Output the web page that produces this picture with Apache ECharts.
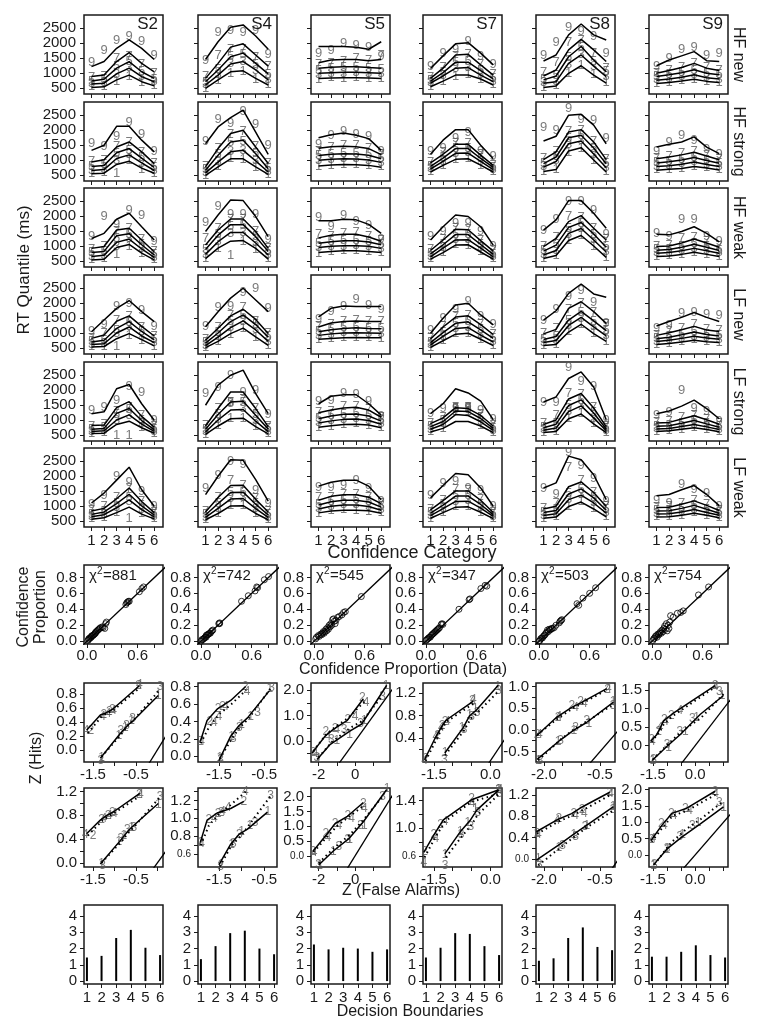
<!DOCTYPE html>
<html><head><meta charset="utf-8">
<script src="https://cdn.jsdelivr.net/npm/echarts@6/dist/echarts.min.js"></script>
<style>html,body{margin:0;padding:0;background:#fff}#c{width:762px;height:1032px}</style>
</head><body><div id="c"></div><script>
// ---------------- DATA ----------------
const subjects = ['S2','S4','S5','S7','S8','S9'];
const conditions = ['HF new','HF strong','HF weak','LF new','LF strong','LF weak'];
const confCategories = [1,2,3,4,5,6];
const quantileLabels = ['1','3','5','7','9'];
const rtTicks = [500,1000,1500,2000,2500];
// RT quantiles: [q.1, q.3, q.5, q.7, q.9] x confidence 1..6 ; model = lines, data = digit labels
const S2_HFnew_model = [[520,540,770,930,710,570],[630,660,970,1160,880,710],[730,790,1160,1380,1040,820],[880,930,1380,1680,1320,1040],[1210,1380,1820,2100,1820,1450]];
const S2_HFnew_data = [[540,560,710,900,700,580],[640,690,950,1180,900,720],[720,800,1210,1370,1060,800],[850,900,1470,1560,1300,1000],[1360,1740,2080,2230,2050,1570]];
const S2_HFstrong_model = [[540,560,850,960,730,560],[650,680,1050,1170,900,650],[780,820,1240,1380,1060,750],[930,1010,1430,1600,1270,880],[1320,1490,2120,2120,1660,1270]];
const S2_HFstrong_data = [[550,580,550,1000,700,560],[660,700,1000,1200,880,660],[790,840,1230,1330,1080,760],[950,1000,1460,1580,1250,900],[1540,1450,1770,2240,1860,1270]];
const S2_HFweak_model = [[530,560,950,1050,760,540],[650,690,1120,1230,900,620],[780,820,1340,1410,1040,700],[920,980,1530,1590,1200,810],[1250,1420,1890,2090,1640,1200]];
const S2_HFweak_data = [[540,570,730,1000,740,550],[660,700,1000,1250,920,630],[790,830,1250,1400,1060,710],[900,1000,1480,1600,1220,820],[1310,2000,1720,2180,2030,1140]];
const S2_LFnew_model = [[530,550,810,980,780,570],[620,640,1000,1200,900,680],[700,760,1150,1380,1050,770],[820,930,1390,1570,1220,900],[1040,1430,1820,2080,1710,1380]];
const S2_LFnew_data = [[540,560,540,920,760,560],[630,660,980,1220,880,690],[710,760,1100,1360,1060,780],[830,1000,1430,1560,1200,880],[1040,1300,1900,2000,1740,1210]];
const S2_LFstrong_model = [[550,560,850,960,740,560],[620,640,1000,1170,860,620],[690,720,1220,1380,980,680],[820,830,1410,1610,1120,760],[1210,1270,2040,2180,1540,990]];
const S2_LFstrong_data = [[560,570,490,490,760,560],[630,650,980,1150,880,630],[700,740,1200,1360,1000,690],[800,860,1270,1420,1150,780],[1320,1430,1660,2120,1910,990]];
const S2_LFweak_model = [[560,610,780,960,730,570],[640,710,940,1200,880,640],[720,800,1080,1390,1000,700],[830,920,1240,1600,1150,780],[1100,1430,1860,2290,1540,990]];
const S2_LFweak_data = [[570,620,800,570,740,580],[650,720,960,1150,900,650],[730,810,1100,1300,1020,710],[840,1000,1300,1600,1150,790],[1040,1340,1990,1770,1490,990]];

const S4_HFnew_model = [[490,770,1040,1070,820,600],[600,930,1300,1380,1100,770],[710,1100,1540,1660,1320,970],[820,1320,1860,1970,1600,1230],[1450,2040,2520,2600,2230,1790]];
const S4_HFnew_data = [[500,760,1000,1050,800,610],[610,950,1320,1400,1080,780],[700,1120,1550,1620,1300,950],[900,1570,1770,1790,1520,1230],[1430,2360,2410,2360,2410,1630]];
const S4_HFstrong_model = [[490,770,1040,1040,770,520],[570,930,1270,1320,970,600],[660,1160,1600,1660,1210,710],[770,1380,1880,1990,1430,880],[1540,2100,2410,2660,1930,1190]];
const S4_HFstrong_data = [[500,780,1050,1020,760,530],[580,950,1300,1330,980,610],[670,1180,1600,1620,1220,720],[800,1400,1850,1950,1450,900],[1630,2360,2210,2620,2190,1470]];
const S4_HFweak_model = [[580,930,1160,1180,920,560],[720,1140,1450,1450,1100,700],[880,1360,1710,1710,1310,820],[1030,1530,1900,1900,1480,920],[1480,2030,2530,2510,1980,1310]];
const S4_HFweak_data = [[590,920,670,1150,900,570],[730,1150,1420,1460,1120,710],[900,1380,1650,1700,1330,830],[1250,1600,1900,1880,1500,930],[1790,2310,2060,2060,2060,1220]];
const S4_LFnew_model = [[510,720,980,1160,870,590],[580,860,1180,1400,1100,720],[660,1000,1380,1600,1280,860],[760,1160,1570,1790,1450,980],[1210,1710,2160,2490,2100,1710]];
const S4_LFnew_data = [[520,730,960,1150,860,600],[590,880,1200,1380,1120,730],[680,1020,1400,1580,1300,870],[780,1200,1600,1850,1400,1000],[1210,1840,1900,2340,2490,1820]];
const S4_LFstrong_model = [[520,800,1040,1060,780,540],[600,1000,1330,1350,960,610],[690,1180,1600,1620,1160,700],[800,1380,1930,1930,1380,780],[1490,2160,2490,2660,1880,1210]];
const S4_LFstrong_data = [[530,810,1050,1040,790,550],[610,1020,1550,1370,980,620],[700,1200,1580,1600,1180,710],[830,1400,1600,1700,1400,800],[1900,2080,2490,1930,1990,1190]];
const S4_LFweak_model = [[540,750,1000,1010,750,540],[620,920,1230,1250,910,620],[700,1080,1450,1460,1060,700],[800,1280,1680,1690,1220,800],[1380,1990,2540,2520,1880,1160]];
const S4_LFweak_data = [[550,760,1020,1020,760,550],[630,930,1240,1270,930,630],[720,1100,1460,1450,1080,710],[820,1300,1850,1700,1250,810],[1580,2020,2490,2380,1520,1080]];

const S5_HFnew_model = [[820,830,840,840,830,820],[990,1010,1020,1020,1010,990],[1160,1190,1210,1210,1180,1160],[1340,1430,1450,1450,1410,1450],[1880,1880,1880,1860,1790,2040]];
const S5_HFnew_data = [[800,840,830,850,820,830],[960,990,1000,1010,990,980],[1100,1150,1180,1190,1150,1130],[1270,1320,1400,1470,1410,1570],[1660,1740,1990,1910,1860,1540]];
const S5_HFstrong_model = [[800,830,850,840,820,760],[990,1020,1040,1030,1000,920],[1150,1190,1210,1200,1160,1040],[1390,1440,1460,1440,1380,1180],[1740,1840,1900,1820,1710,1320]];
const S5_HFstrong_data = [[790,820,860,850,810,770],[980,1030,1050,1040,990,930],[1160,1200,1230,1210,1170,1060],[1300,1420,1500,1480,1400,1200],[1510,1820,1960,1840,1770,1270]];
const S5_HFweak_model = [[780,820,840,840,820,780],[950,990,1010,1010,990,920],[1090,1140,1170,1170,1130,1040],[1270,1360,1390,1390,1300,1160],[1840,1840,1890,1870,1720,1420]];
const S5_HFweak_data = [[760,820,850,840,830,770],[940,980,1000,1020,980,930],[1100,1150,1180,1180,1140,1050],[1400,1330,1420,1450,1320,1180],[1940,1640,2030,1810,1680,1220]];
const S5_LFnew_model = [[790,820,840,850,840,840],[920,970,1000,1010,1000,990],[1040,1110,1150,1170,1150,1140],[1200,1330,1380,1400,1380,1380],[1540,1820,1900,1880,1880,1880]];
const S5_LFnew_data = [[780,830,850,840,850,830],[930,960,1010,1020,990,1000],[1060,1120,1170,1180,1160,1150],[1230,1300,1400,1420,1390,1370],[1460,1710,1900,2120,1930,1770]];
const S5_LFstrong_model = [[760,810,850,860,830,740],[900,970,1020,1030,980,860],[1040,1130,1190,1200,1130,960],[1240,1330,1400,1420,1330,1090],[1540,1790,1840,1840,1540,1160]];
const S5_LFstrong_data = [[750,800,860,870,820,750],[910,990,1030,1040,990,870],[1060,1150,1200,1210,1150,980],[1250,1300,1460,1450,1350,1100],[1630,1660,1900,1840,1620,1120]];
const S5_LFweak_model = [[770,830,860,860,840,760],[900,990,1030,1030,980,860],[1030,1140,1190,1190,1130,960],[1190,1320,1370,1370,1290,1080],[1660,1790,1860,1860,1660,1210]];
const S5_LFweak_data = [[760,840,870,860,830,770],[910,1000,1040,1050,990,870],[1050,1150,1200,1210,1150,970],[1270,1300,1380,1400,1280,1090],[1630,1620,1680,1860,1600,1160]];

const S7_HFnew_model = [[540,730,930,930,800,600],[660,900,1160,1180,930,710],[730,1010,1360,1360,1080,800],[820,1160,1600,1620,1270,930],[1150,1570,1970,2010,1660,1270]];
const S7_HFnew_data = [[550,720,900,940,790,610],[670,920,1150,1190,940,720],[740,1030,1350,1380,1090,810],[850,1200,1550,1620,1280,950],[1210,1660,1770,2040,1540,1270]];
const S7_HFstrong_model = [[600,820,1020,1040,830,600],[700,950,1220,1230,950,680],[790,1060,1380,1380,1050,750],[900,1190,1520,1520,1160,820],[1190,1660,2010,2010,1490,1040]];
const S7_HFstrong_data = [[610,830,1010,1050,820,610],[710,960,1230,1240,960,690],[800,1080,1390,1400,1060,760],[920,1250,1560,1540,1180,830],[1300,1400,1730,1930,1270,1120]];
const S7_HFweak_model = [[560,780,1030,1040,800,560],[640,930,1200,1210,930,640],[740,1040,1380,1380,1050,720],[850,1200,1560,1540,1180,830],[1200,1640,2030,1980,1640,1030]];
const S7_HFweak_data = [[570,790,1040,1030,810,570],[650,940,1210,1230,940,650],[760,1060,1390,1400,1060,730],[880,1220,1590,1560,1200,840],[1310,1480,1760,1760,1480,1000]];
const S7_LFnew_model = [[520,740,960,990,790,580],[600,890,1150,1180,930,700],[680,1010,1320,1370,1100,820],[800,1200,1530,1570,1280,950],[990,1490,1930,1990,1600,1270]];
const S7_LFnew_data = [[530,750,970,1000,800,590],[610,900,1160,1190,940,710],[700,1020,1330,1380,1110,830],[830,1220,1560,1600,1290,960],[1100,1490,1800,2040,1540,1270]];
const S7_LFstrong_model = [[600,720,950,950,800,580],[690,850,1180,1150,940,650],[780,950,1300,1280,1050,720],[880,1070,1410,1380,1150,800],[1210,1540,2040,1900,1630,1010]];
const S7_LFstrong_data = [[610,730,1300,1300,820,590],[700,870,1360,1340,960,660],[790,980,1380,1400,1070,730],[900,1100,1420,1410,1170,810],[1210,1380,1380,1430,1320,1010]];
const S7_LFweak_model = [[590,780,960,970,790,580],[680,910,1150,1160,930,650],[760,1030,1330,1330,1050,710],[870,1180,1500,1500,1190,780],[1270,1680,2080,2040,1600,990]];
const S7_LFweak_data = [[600,790,970,980,800,590],[690,920,1160,1170,940,660],[770,1040,1340,1350,1060,720],[890,1200,1560,1520,1210,790],[1340,1740,1820,1600,1520,990]];

const S8_HFnew_model = [[520,570,990,1240,930,660],[660,710,1320,1600,1230,880],[770,900,1540,1880,1430,1040],[900,1100,1770,2120,1770,1380],[1400,1600,2270,2630,2270,2100]];
const S8_HFnew_data = [[530,580,1000,1250,940,670],[670,730,1300,1620,1220,890],[780,920,1520,1850,1400,1050],[1010,1340,2010,2070,1660,1160],[1600,2010,2510,2380,2230,1660]];
const S8_HFstrong_model = [[620,680,1300,1410,1000,600],[760,950,1540,1630,1200,740],[880,1100,1740,1820,1400,870],[1010,1270,1930,2010,1600,1010],[1630,1790,2490,2520,2160,1540]];
const S8_HFstrong_data = [[630,690,1250,1400,990,610],[770,970,1520,1640,1190,750],[890,1120,1720,1830,1380,880],[1050,1300,1950,2000,1620,1020],[2090,1990,2710,2360,2320,1710]];
const S8_HFweak_model = [[580,680,1180,1350,1000,620],[700,850,1420,1580,1200,800],[830,1030,1620,1780,1400,960],[980,1250,1810,2010,1590,1200],[1530,1870,2510,2510,2090,1590]];
const S8_HFweak_data = [[590,690,1170,1360,990,630],[710,860,1400,1570,1210,810],[840,1050,1600,1760,1380,970],[1000,1300,2000,1950,1600,1210],[1530,1870,2480,2480,2170,1400]];
const S8_LFnew_model = [[580,620,1030,1290,980,720],[680,750,1250,1520,1200,900],[780,880,1430,1720,1400,1080],[970,1120,1820,2040,1710,1320],[1430,1740,2320,2630,2300,2190]];
const S8_LFnew_data = [[590,630,1040,1280,990,730],[690,760,1260,1500,1210,910],[790,900,1420,1700,1380,1090],[1000,1150,1800,2000,1700,1300],[1430,1790,2210,2430,2010,1320]];
const S8_LFstrong_model = [[580,620,1040,1200,870,580],[660,730,1280,1470,1070,640],[740,860,1480,1670,1230,700],[850,1000,1700,1880,1400,780],[1600,1770,2380,2600,2100,1010]];
const S8_LFstrong_data = [[590,630,1050,1210,880,590],[670,740,1290,1480,1060,650],[750,880,1470,1650,1240,710],[870,1150,1900,1860,1420,790],[1600,1600,2740,2300,2130,990]];
const S8_LFweak_model = [[590,630,980,1130,900,640],[680,740,1210,1360,1100,760],[780,850,1400,1570,1270,860],[900,990,1640,1800,1450,980],[1600,1770,2660,2540,2040,1210]];
const S8_LFweak_data = [[600,640,1000,1140,910,650],[690,750,1220,1380,1110,770],[790,870,1420,1550,1280,870],[920,1100,2270,1850,1460,990],[1600,1380,2770,2340,1930,1160]];

const S9_HFnew_model = [[650,680,730,790,720,680],[760,800,860,940,840,800],[880,940,1010,1110,990,940],[990,1080,1180,1320,1160,1080],[1240,1430,1570,1710,1410,1380]];
const S9_HFnew_data = [[640,690,740,800,710,690],[770,810,870,950,850,790],[890,950,1020,1100,1000,950],[1000,1100,1200,1330,1180,1090],[1210,1470,1770,1840,1600,1660]];
const S9_HFstrong_model = [[660,690,720,780,730,670],[780,810,860,930,850,780],[900,940,1000,1080,980,890],[1040,1100,1170,1260,1130,1010],[1430,1520,1600,1770,1430,1210]];
const S9_HFstrong_data = [[670,700,730,790,740,680],[790,820,870,940,860,790],[910,950,1010,1090,990,900],[1050,1120,1230,1280,1150,1020],[1270,1570,1820,1660,1360,1190]];
const S9_HFweak_model = [[650,670,720,790,720,650],[760,780,840,920,840,760],[860,880,960,1060,960,850],[980,1000,1100,1230,1100,960],[1390,1370,1480,1640,1420,1140]];
const S9_HFweak_data = [[660,680,730,800,730,660],[770,790,850,930,850,770],[870,890,970,1070,970,860],[1000,1020,1250,1300,1150,980],[1420,1310,1890,1870,1310,1140]];
const S9_LFnew_model = [[620,650,700,760,710,680],[720,760,820,890,830,790],[810,860,940,1030,950,900],[920,1010,1110,1220,1100,1050],[1230,1380,1520,1680,1520,1380]];
const S9_LFnew_data = [[630,660,710,770,720,690],[730,770,830,900,840,800],[820,870,950,1040,960,910],[930,1050,1150,1300,1130,1070],[1160,1240,1650,1680,1620,1600]];
const S9_LFstrong_model = [[620,640,690,740,680,610],[700,720,780,850,770,680],[790,810,890,980,870,760],[900,920,1030,1140,1010,860],[1210,1300,1460,1660,1380,1040]];
const S9_LFstrong_data = [[630,650,700,750,690,620],[710,730,790,860,780,690],[800,820,900,990,880,770],[920,940,1100,1150,1030,870],[1160,1240,1990,1380,1270,960]];
const S9_LFweak_model = [[630,640,690,760,690,610],[730,740,800,880,780,690],[830,840,920,1020,890,760],[950,960,1060,1170,1020,850],[1340,1380,1540,1680,1380,1010]];
const S9_LFweak_data = [[640,650,700,770,700,620],[740,750,810,890,790,700],[840,850,930,1030,900,770],[960,980,1100,1200,1040,860],[1180,1100,1710,1540,1430,990]];

// Confidence proportions: [data, model]
const conf_S2 = [[0.01,0.01],[0.02,0.02],[0.02,0.03],[0.03,0.04],[0.04,0.04],[0.05,0.05],[0.05,0.06],[0.06,0.07],[0.07,0.07],[0.08,0.08],[0.09,0.09],[0.1,0.1],[0.1,0.11],[0.11,0.12],[0.12,0.13],[0.13,0.14],[0.14,0.15],[0.15,0.16],[0.16,0.17],[0.18,0.18],[0.19,0.17],[0.21,0.16],[0.22,0.22],[0.23,0.24],[0.46,0.46],[0.47,0.48],[0.48,0.49],[0.49,0.5],[0.5,0.5],[0.62,0.62],[0.65,0.66],[0.67,0.68]];
const conf_S4 = [[0.0,0.0],[0.01,0.02],[0.02,0.02],[0.03,0.03],[0.04,0.04],[0.05,0.05],[0.06,0.05],[0.06,0.07],[0.07,0.08],[0.08,0.08],[0.09,0.09],[0.1,0.1],[0.11,0.1],[0.12,0.12],[0.13,0.13],[0.14,0.14],[0.21,0.22],[0.22,0.23],[0.22,0.22],[0.48,0.5],[0.56,0.57],[0.64,0.63],[0.66,0.68],[0.67,0.67],[0.75,0.77],[0.8,0.81]];
const conf_S5 = [[0.02,0.03],[0.03,0.05],[0.05,0.07],[0.06,0.06],[0.08,0.09],[0.09,0.08],[0.1,0.1],[0.11,0.12],[0.12,0.1],[0.13,0.12],[0.14,0.15],[0.15,0.13],[0.16,0.17],[0.17,0.15],[0.18,0.2],[0.19,0.18],[0.2,0.22],[0.21,0.2],[0.22,0.27],[0.23,0.28],[0.24,0.25],[0.25,0.22],[0.26,0.26],[0.28,0.3],[0.3,0.31],[0.33,0.33],[0.35,0.36],[0.37,0.37],[0.56,0.56]];
const conf_S7 = [[0.0,0.01],[0.01,0.02],[0.02,0.03],[0.03,0.04],[0.04,0.05],[0.05,0.05],[0.06,0.07],[0.07,0.08],[0.08,0.09],[0.09,0.1],[0.1,0.11],[0.11,0.12],[0.12,0.13],[0.13,0.14],[0.14,0.15],[0.15,0.16],[0.16,0.17],[0.18,0.21],[0.19,0.22],[0.2,0.21],[0.39,0.4],[0.51,0.52],[0.52,0.53],[0.65,0.66],[0.7,0.7],[0.72,0.69]];
const conf_S8 = [[0.0,0.0],[0.01,0.01],[0.02,0.03],[0.03,0.04],[0.04,0.04],[0.05,0.06],[0.06,0.07],[0.07,0.08],[0.08,0.1],[0.09,0.11],[0.1,0.14],[0.11,0.12],[0.12,0.15],[0.13,0.14],[0.14,0.15],[0.15,0.16],[0.16,0.16],[0.18,0.17],[0.2,0.2],[0.24,0.23],[0.25,0.25],[0.26,0.26],[0.27,0.27],[0.45,0.47],[0.47,0.45],[0.52,0.54],[0.6,0.6],[0.67,0.67]];
const conf_S9 = [[0.01,0.01],[0.02,0.03],[0.03,0.04],[0.04,0.06],[0.05,0.07],[0.06,0.05],[0.07,0.09],[0.08,0.08],[0.09,0.1],[0.1,0.12],[0.11,0.1],[0.12,0.14],[0.13,0.12],[0.14,0.16],[0.15,0.19],[0.16,0.15],[0.17,0.22],[0.18,0.13],[0.19,0.2],[0.2,0.16],[0.21,0.24],[0.22,0.32],[0.25,0.3],[0.3,0.35],[0.34,0.36],[0.37,0.38],[0.55,0.58],[0.67,0.68]];
const chiSquare = [881,742,545,347,503,754];

// ZROC: model curves [c1 solid low, c2 solid up, c3 dotted low, c4 dotted up]; data labels 1..4
const zroc1_S2_model = [[[-1.33,-0.12],[-0.87,0.23],[-0.68,0.36],[-0.56,0.42],[0.02,0.78]],[[-1.65,0.28],[-1.33,0.5],[-1.2,0.53],[-1.05,0.58],[-0.42,0.92]],[[-1.3,-0.1],[-0.85,0.22],[-0.66,0.37],[-0.55,0.43],[0.05,0.86]],[[-1.62,0.24],[-1.3,0.48],[-1.17,0.53],[-1.02,0.57],[-0.4,0.9]]];
const zroc1_S2_data = [[[-1.3,-0.12],[-0.9,0.2],[-0.75,0.32],[-0.6,0.42],[0.02,0.78]],[[-1.55,0.27],[-1.25,0.5],[-1.12,0.55],[-1.05,0.57],[-0.44,0.92]],[[-1.32,-0.15],[-0.85,0.27],[-0.72,0.35],[-0.58,0.45],[0.06,0.9]],[[-1.66,0.27],[-1.28,0.48],[-1.15,0.52],[-1.02,0.56],[-0.42,0.93]]];
const zroc1_S4_model = [[[-1.5,-0.05],[-1.24,0.23],[-1.06,0.35],[-0.87,0.44],[-0.39,0.75]],[[-1.91,0.17],[-1.76,0.41],[-1.54,0.54],[-1.24,0.64],[-0.91,0.8]],[[-1.48,-0.03],[-1.22,0.2],[-1.04,0.33],[-0.85,0.43],[-0.36,0.78]],[[-1.9,0.15],[-1.72,0.33],[-1.5,0.48],[-1.22,0.6],[-0.9,0.76]]];
const zroc1_S4_data = [[[-1.48,-0.02],[-1.22,0.22],[-1.0,0.36],[-0.8,0.45],[-0.38,0.78]],[[-1.92,0.17],[-1.7,0.4],[-1.52,0.55],[-1.42,0.57],[-0.92,0.8]],[[-1.46,-0.04],[-1.18,0.2],[-1.05,0.33],[-0.65,0.5],[-0.34,0.79]],[[-1.88,0.17],[-1.6,0.38],[-1.5,0.45],[-1.35,0.57],[-0.88,0.74]]];
const zroc1_S5_model = [[[-2.09,-0.73],[-1.36,-0.13],[-0.27,0.4],[0.36,0.67],[1.73,2.2]],[[-2.36,-0.47],[-1.64,0.2],[-1.18,0.47],[-0.45,0.8],[0.45,1.67]],[[-2.0,-0.65],[-1.3,-0.05],[-0.3,0.5],[0.4,0.8],[1.4,1.7]],[[-2.3,-0.4],[-1.6,0.25],[-1.1,0.55],[-0.4,0.9],[0.5,1.55]]];
const zroc1_S5_data = [[[-2.0,-0.7],[-1.0,0.0],[-0.3,0.25],[0.5,0.8],[1.7,2.2]],[[-2.3,-0.45],[-1.6,0.35],[-1.1,0.5],[-0.4,0.85],[0.4,1.7]],[[-2.1,-0.65],[-1.3,0.05],[-0.6,0.45],[0.3,0.7],[1.5,1.75]],[[-2.2,-0.5],[-1.5,0.15],[-1.0,0.45],[0.0,0.95],[0.6,1.5]]];
const zroc1_S7_model = [[[-1.21,0.14],[-0.72,0.59],[-0.55,0.8],[-0.37,0.9],[0.21,1.34]],[[-1.75,0.02],[-1.44,0.44],[-1.3,0.6],[-1.18,0.72],[-0.45,1.06]],[[-1.2,0.1],[-0.7,0.54],[-0.52,0.75],[-0.35,0.85],[0.24,1.25]],[[-1.72,0.0],[-1.42,0.4],[-1.28,0.58],[-1.15,0.7],[-0.42,1.03]]];
const zroc1_S7_data = [[[-1.2,0.15],[-0.75,0.58],[-0.55,0.82],[-0.4,0.92],[0.2,1.32]],[[-1.72,0.04],[-1.4,0.45],[-1.28,0.62],[-1.2,0.7],[-0.48,1.06]],[[-1.22,0.02],[-0.7,0.55],[-0.5,0.78],[-0.35,0.85],[0.22,1.24]],[[-1.75,0.0],[-1.45,0.42],[-1.3,0.58],[-1.14,0.7],[-0.45,1.08]]];
const zroc1_S8_model = [[[-2.18,-0.68],[-1.57,-0.24],[-1.21,-0.01],[-0.86,0.17],[-0.14,0.64]],[[-2.2,-0.14],[-1.66,0.29],[-1.26,0.52],[-1.04,0.61],[-0.32,0.95]],[[-2.15,-0.7],[-1.55,-0.22],[-1.18,0.02],[-0.84,0.2],[-0.12,0.6]],[[-2.18,-0.12],[-1.62,0.27],[-1.22,0.5],[-1.0,0.6],[-0.3,0.93]]];
const zroc1_S8_data = [[[-2.15,-0.7],[-1.62,-0.28],[-1.2,-0.02],[-0.8,0.15],[-0.15,0.65]],[[-2.18,-0.1],[-1.62,0.28],[-1.25,0.55],[-1.02,0.64],[-0.3,0.93]],[[-2.1,-0.72],[-1.55,-0.25],[-1.15,0.05],[-0.85,0.22],[-0.15,0.55]],[[-2.12,-0.12],[-1.6,0.3],[-1.15,0.52],[-0.92,0.6],[-0.28,0.96]]];
const zroc1_S9_model = [[[-1.53,-0.41],[-1.0,-0.02],[-0.53,0.3],[0.18,0.85],[1.0,1.36]],[[-1.57,0.12],[-1.36,0.3],[-1.12,0.67],[-0.83,0.85],[0.7,1.63]],[[-1.5,-0.38],[-0.95,0.05],[-0.45,0.4],[0.2,0.75],[1.0,1.4]],[[-1.55,0.1],[-1.32,0.32],[-1.1,0.6],[-0.8,0.8],[0.72,1.6]]];
const zroc1_S9_data = [[[-1.5,-0.42],[-0.95,-0.05],[-0.35,0.38],[0.05,0.75],[0.95,1.35]],[[-1.55,0.15],[-1.3,0.38],[-1.1,0.7],[-0.85,0.82],[0.7,1.63]],[[-1.48,-0.38],[-1.0,0.02],[-0.55,0.38],[-0.1,0.72],[0.85,1.45]],[[-1.52,0.1],[-1.25,0.48],[-1.05,0.65],[-0.55,0.95],[0.72,1.6]]];

const zroc2_S2_model = [[[-1.33,-0.02],[-0.87,0.37],[-0.68,0.54],[-0.6,0.6],[0.02,1.0]],[[-1.65,0.49],[-1.33,0.72],[-1.18,0.8],[-1.02,0.86],[-0.41,1.17]],[[-1.3,0.0],[-0.85,0.35],[-0.66,0.52],[-0.55,0.6],[0.05,1.1]],[[-1.62,0.46],[-1.3,0.7],[-1.15,0.78],[-1.0,0.84],[-0.42,1.12]]];
const zroc2_S2_data = [[[-1.3,-0.02],[-0.9,0.35],[-0.78,0.45],[-0.6,0.6],[0.02,0.98]],[[-1.5,0.46],[-1.3,0.72],[-1.15,0.8],[-1.05,0.85],[-0.42,1.14]],[[-1.28,-0.04],[-0.85,0.4],[-0.7,0.55],[-0.55,0.6],[0.06,1.12]],[[-1.68,0.48],[-1.25,0.75],[-1.12,0.8],[-1.0,0.82],[-0.4,1.15]]];
const zroc2_S4_model = [[[-1.5,0.48],[-1.24,0.71],[-1.06,0.82],[-0.87,0.88],[-0.43,1.07]],[[-1.91,0.73],[-1.76,0.98],[-1.54,1.06],[-1.24,1.11],[-0.95,1.19]],[[-1.48,0.46],[-1.22,0.7],[-1.02,0.8],[-0.8,0.95],[-0.36,1.25]],[[-1.9,0.7],[-1.72,0.92],[-1.5,1.05],[-1.24,1.15],[-0.91,1.3]]];
const zroc2_S4_data = [[[-1.45,0.48],[-1.22,0.7],[-1.0,0.85],[-0.82,0.92],[-0.42,1.07]],[[-1.9,0.73],[-1.72,0.98],[-1.52,1.05],[-1.45,1.06],[-0.95,1.19]],[[-1.46,0.46],[-1.18,0.72],[-1.05,0.82],[-0.7,0.95],[-0.36,1.25]],[[-1.88,0.72],[-1.6,1.0],[-1.42,1.07],[-1.3,1.12],[-0.92,1.3]]];
const zroc2_S5_model = [[[-2.0,-0.31],[-1.18,0.17],[-0.36,0.57],[0.45,1.15],[1.73,2.24]],[[-2.31,0.15],[-1.64,0.66],[-1.09,1.09],[-0.45,1.32],[0.45,1.8]],[[-2.0,-0.25],[-1.1,0.3],[-0.3,0.7],[0.5,1.25],[1.5,2.0]],[[-2.28,0.12],[-1.6,0.6],[-1.0,1.0],[-0.4,1.3],[0.5,1.7]]];
const zroc2_S5_data = [[[-1.95,-0.35],[-1.2,0.15],[-0.3,0.55],[0.5,1.0],[1.75,2.25]],[[-2.3,0.15],[-1.6,0.75],[-1.1,1.1],[-0.4,1.35],[0.45,1.75]],[[-2.0,-0.3],[-0.9,0.3],[-0.4,0.55],[0.3,1.0],[1.5,2.0]],[[-2.25,0.1],[-1.5,0.6],[-0.9,1.0],[-0.2,1.25],[0.5,1.6]]];
const zroc2_S7_model = [[[-1.21,0.63],[-0.81,0.94],[-0.54,1.11],[-0.36,1.26],[0.22,1.55]],[[-1.77,0.65],[-1.48,0.92],[-1.25,1.12],[-0.5,1.41],[0.21,1.55]],[[-1.18,0.58],[-0.76,0.88],[-0.5,1.05],[-0.33,1.2],[0.25,1.5]],[[-1.75,0.58],[-1.45,0.88],[-1.2,1.1],[-0.5,1.38],[0.24,1.5]]];
const zroc2_S7_data = [[[-1.2,0.62],[-0.8,0.95],[-0.6,1.08],[-0.4,1.28],[0.22,1.55]],[[-1.75,0.66],[-1.5,0.9],[-1.32,1.05],[-0.5,1.42],[0.22,1.56]],[[-1.2,0.46],[-0.78,0.9],[-0.52,1.02],[-0.33,1.22],[0.24,1.5]],[[-1.77,0.5],[-1.45,0.85],[-1.2,1.1],[-0.48,1.35],[0.25,1.55]]];
const zroc2_S8_model = [[[-2.2,-0.02],[-1.57,0.28],[-1.21,0.46],[-0.86,0.63],[-0.14,0.98]],[[-2.2,0.51],[-1.66,0.73],[-1.26,0.85],[-1.04,0.95],[-0.24,1.25]],[[-2.15,-0.12],[-1.55,0.22],[-1.18,0.42],[-0.84,0.6],[-0.12,0.92]],[[-2.18,0.47],[-1.62,0.7],[-1.22,0.82],[-1.0,0.9],[-0.22,1.2]]];
const zroc2_S8_data = [[[-2.15,0.0],[-1.6,0.22],[-1.2,0.45],[-0.85,0.62],[-0.15,0.98]],[[-2.18,0.48],[-1.6,0.75],[-1.2,0.85],[-0.98,0.92],[-0.24,1.25]],[[-2.12,-0.1],[-1.5,0.25],[-1.15,0.42],[-0.9,0.6],[-0.15,0.92]],[[-2.15,0.45],[-1.65,0.72],[-1.15,0.82],[-0.92,0.85],[-0.22,1.22]]];
const zroc2_S9_model = [[[-1.48,-0.31],[-1.0,0.18],[-0.48,0.54],[0.18,0.95],[1.0,1.47]],[[-1.57,0.44],[-1.18,0.91],[-0.83,1.27],[-0.3,1.43],[0.7,1.95]],[[-1.45,-0.3],[-0.85,0.38],[-0.3,0.8],[0.2,1.1],[1.0,1.65]],[[-1.55,0.4],[-1.15,0.85],[-0.8,1.2],[-0.3,1.35],[0.72,1.85]]];
const zroc2_S9_data = [[[-1.48,-0.32],[-1.0,0.15],[-0.45,0.62],[0.1,1.0],[1.0,1.45]],[[-1.55,0.45],[-1.2,0.95],[-0.85,1.25],[-0.35,1.4],[0.7,1.95]],[[-1.45,-0.3],[-1.0,0.2],[-0.55,0.55],[-0.1,0.9],[0.85,1.6]],[[-1.5,0.5],[-1.1,0.9],[-0.75,1.2],[-0.2,1.35],[0.72,1.88]]];
const zrocLabels = ['1','2','3','4'];
// ZROC axes (per subject)
const zrocXRange = [[-1.71,0.13],[-1.96,-0.22],[-2.42,1.91],[-1.79,0.31],[-2.21,-0.1],[-1.64,1.16]];
const zrocXTicks = [[-1.5,-1,-0.5,0],[-1.5,-1,-0.5],[-2,-1,0,1],[-1.5,-1,-0.5,0],[-2,-1.5,-1,-0.5],[-1.5,-1,-0.5,0,0.5,1]];
const zrocXLabels = [[-1.5,-0.5],[-1.5,-0.5],[-2,0],[-1.5,0],[-2,-0.5],[-1.5,0]];
const zrocXDecimals = [1,1,0,1,1,1];
const zroc1YRange = [[-0.175,0.96],[-0.066,0.84],[-0.83,2.29],[-0.02,1.38],[-0.74,1.08],[-0.45,1.7]];
const zroc1YTicks = [[0,0.2,0.4,0.6,0.8],[0,0.2,0.4,0.6,0.8],[-0.5,0,0.5,1,1.5,2],[0.2,0.4,0.6,0.8,1.0,1.2],[-0.5,-0.25,0,0.25,0.5,0.75,1],[0,0.5,1,1.5]];
const zroc1YLabels = [[0,0.2,0.4,0.6,0.8],[0,0.2,0.4,0.6,0.8],[0,1,2],[0.4,0.8,1.2],[-0.5,0,0.5,1],[0,0.5,1,1.5]];
const zroc2YRange = [[-0.07,1.26],[0.455,1.34],[-0.38,2.29],[0.44,1.58],[-0.15,1.33],[-0.375,2.05]];
const zroc2YTicks = [[0,0.2,0.4,0.6,0.8,1.0,1.2],[0.6,0.7,0.8,0.9,1.0,1.1,1.2,1.3],[0,0.5,1,1.5,2],[0.6,0.8,1.0,1.2,1.4],[0,0.2,0.4,0.6,0.8,1.0,1.2],[0,0.5,1,1.5,2]];
const zroc2YLabels = [[0,0.4,0.8,1.2],[0.6,0.8,1.0,1.2],[0,0.5,1,1.5,2],[0.6,1.0,1.4],[0,0.4,0.8,1.2],[0,0.5,1,1.5,2]];
const zroc2YSmall = [null,0.6,0,0.6,0,0];

// Decision boundaries
const bound_S2 = [1.45,1.55,2.65,3.15,2.05,1.6];
const bound_S4 = [1.35,2.15,2.95,3.1,2.0,1.65];
const bound_S5 = [2.25,1.95,2.05,2.0,1.8,1.95];
const bound_S7 = [1.45,2.05,2.95,2.9,2.15,1.6];
const bound_S8 = [1.25,1.4,2.65,3.3,2.1,1.9];
const bound_S9 = [1.5,1.5,1.8,2.2,1.6,1.45];
const boundTicks = [0,1,2,3,4];

// ---------------- BUILD ----------------
const RT = {
  S2:[[S2_HFnew_model,S2_HFnew_data],[S2_HFstrong_model,S2_HFstrong_data],[S2_HFweak_model,S2_HFweak_data],[S2_LFnew_model,S2_LFnew_data],[S2_LFstrong_model,S2_LFstrong_data],[S2_LFweak_model,S2_LFweak_data]],
  S4:[[S4_HFnew_model,S4_HFnew_data],[S4_HFstrong_model,S4_HFstrong_data],[S4_HFweak_model,S4_HFweak_data],[S4_LFnew_model,S4_LFnew_data],[S4_LFstrong_model,S4_LFstrong_data],[S4_LFweak_model,S4_LFweak_data]],
  S5:[[S5_HFnew_model,S5_HFnew_data],[S5_HFstrong_model,S5_HFstrong_data],[S5_HFweak_model,S5_HFweak_data],[S5_LFnew_model,S5_LFnew_data],[S5_LFstrong_model,S5_LFstrong_data],[S5_LFweak_model,S5_LFweak_data]],
  S7:[[S7_HFnew_model,S7_HFnew_data],[S7_HFstrong_model,S7_HFstrong_data],[S7_HFweak_model,S7_HFweak_data],[S7_LFnew_model,S7_LFnew_data],[S7_LFstrong_model,S7_LFstrong_data],[S7_LFweak_model,S7_LFweak_data]],
  S8:[[S8_HFnew_model,S8_HFnew_data],[S8_HFstrong_model,S8_HFstrong_data],[S8_HFweak_model,S8_HFweak_data],[S8_LFnew_model,S8_LFnew_data],[S8_LFstrong_model,S8_LFstrong_data],[S8_LFweak_model,S8_LFweak_data]],
  S9:[[S9_HFnew_model,S9_HFnew_data],[S9_HFstrong_model,S9_HFstrong_data],[S9_HFweak_model,S9_HFweak_data],[S9_LFnew_model,S9_LFnew_data],[S9_LFstrong_model,S9_LFstrong_data],[S9_LFweak_model,S9_LFweak_data]]
};
const CONF = [conf_S2,conf_S4,conf_S5,conf_S7,conf_S8,conf_S9];
const ZROC = [
  [[zroc1_S2_model,zroc1_S2_data],[zroc1_S4_model,zroc1_S4_data],[zroc1_S5_model,zroc1_S5_data],[zroc1_S7_model,zroc1_S7_data],[zroc1_S8_model,zroc1_S8_data],[zroc1_S9_model,zroc1_S9_data]],
  [[zroc2_S2_model,zroc2_S2_data],[zroc2_S4_model,zroc2_S4_data],[zroc2_S5_model,zroc2_S5_data],[zroc2_S7_model,zroc2_S7_data],[zroc2_S8_model,zroc2_S8_data],[zroc2_S9_model,zroc2_S9_data]]
];
const BOUND = [bound_S2,bound_S4,bound_S5,bound_S7,bound_S8,bound_S9];

const FONT = "'Liberation Sans', Arial, sans-serif";
const colLeft = [84,198,311,423,536,649], PW = 79, PH = 79;
const rtTop = [15,102,188,275,362,448];
const confTop = 565, zTop = [683,788], barTop = 905;
const INK = '#1a1a1a', LABEL = '#5a5a5a';

const grid=[], xAxis=[], yAxis=[], series=[], graphic=[];

function ax(o){
  const fmt = o.fmt;
  return {
    type:'value', min:o.min, max:o.max,
    axisLine:{show:false,onZero:false}, splitLine:{show:false},
    axisTick:{show:true,length:4,lineStyle:{color:INK,width:1},customValues:o.ticks},
    axisLabel:{show:!!o.show, customValues:o.labels, margin:o.margin==null?8:o.margin,
      showMinLabel:true, showMaxLabel:true, hideOverlap:false,
      fontFamily:FONT, fontSize:15, color:INK,
      formatter: (o.small!=null) ? (v => Math.abs(v-o.small)<1e-9 ? '{s|'+fmt(v)+'}' : fmt(v)) : fmt,
      rich:{s:{fontSize:10,fontFamily:FONT,color:INK}}}
  };
}
// Each grid: one x axis, and the y labels split over two stacked y axes (even / odd labels)
// so that closely spaced labels are all drawn.
function addGrid(left, top, xa, ya){
  const gi = grid.length;
  grid.push({left:left, top:top, width:PW, height:PH, show:true, borderColor:INK, borderWidth:1.5, containLabel:false});
  const xi = xAxis.length;
  xAxis.push(Object.assign({gridIndex:gi}, xa));
  const yi = yAxis.length;
  const labels = ya.axisLabel.customValues || [];
  const even = labels.filter((v,k)=>k%2===0), odd = labels.filter((v,k)=>k%2===1);
  const main = Object.assign({gridIndex:gi}, ya);
  main.axisLabel = Object.assign({}, ya.axisLabel, {customValues:even});
  yAxis.push(main);
  if (odd.length && ya.axisLabel.show) {
    const alt = Object.assign({gridIndex:gi}, ya, {position:'left', offset:0});
    alt.axisTick = {show:false};
    alt.axisLabel = Object.assign({}, ya.axisLabel, {customValues:odd});
    main.position = 'left';
    yAxis.push(alt);
  }
  return {xi:xi, yi:yi};
}
function txt(x,y,text,size,opts){
  opts = opts||{};
  graphic.push({type:'text', x:x, y:y, rotation:opts.rot||0, silent:true, z:100,
    style:{text:text, fill:opts.color||INK, font:(size)+'px '+FONT, align:opts.align||'center', verticalAlign:opts.va||'middle'}});
}
const f0 = v => String(v);
const fd = d => (v => Number(v).toFixed(d));

// RT quantile panels
subjects.forEach((s,c)=>{
  conditions.forEach((cond,r)=>{
    const model = RT[s][r][0], data = RT[s][r][1];
    const g = addGrid(colLeft[c], rtTop[r],
      ax({min:0.4,max:6.7,ticks:confCategories,labels:confCategories,fmt:f0,show:r===5,margin:6}),
      ax({min:300,max:2930,ticks:rtTicks,labels:rtTicks,fmt:f0,show:c===0,margin:8}));
    model.forEach(arr => series.push({type:'line', xAxisIndex:g.xi, yAxisIndex:g.yi,
      data: arr.map((v,k)=>[confCategories[k],v]), symbol:'none', silent:true,
      lineStyle:{color:'#000',width:1.5}}));
    const pts = [];
    data.forEach((arr,q)=>arr.forEach((v,k)=>pts.push([confCategories[k],v,quantileLabels[q]])));
    series.push({type:'scatter', xAxisIndex:g.xi, yAxisIndex:g.yi, data:pts, symbolSize:1, silent:true,
      itemStyle:{color:'rgba(0,0,0,0)'},
      label:{show:true, position:'inside', formatter:p=>p.value[2], color:LABEL, fontSize:13, fontFamily:FONT}});
  });
  txt(colLeft[c]+PW-5, 24, s, 17, {align:'right'});
});
conditions.forEach((cond,r)=> txt(738, rtTop[r]+PH/2, cond, 16, {rot:-Math.PI/2}));
txt(24, 270, 'RT Quantile (ms)', 17, {rot:Math.PI/2});
txt(412, 553, 'Confidence Category', 18);

// Confidence proportion panels
const confTicks = [0,0.2,0.4,0.6,0.8];
subjects.forEach((s,c)=>{
  const g = addGrid(colLeft[c], confTop,
    ax({min:-0.036,max:0.9,ticks:confTicks,labels:[0,0.6],fmt:fd(1),show:true,margin:4}),
    ax({min:-0.035,max:0.955,ticks:confTicks,labels:confTicks,fmt:fd(1),show:true,margin:7}));
  series.push({type:'line', xAxisIndex:g.xi, yAxisIndex:g.yi, data:[[-0.2,-0.2],[1.2,1.2]], symbol:'none', silent:true,
    lineStyle:{color:'#000',width:1.3}});
  series.push({type:'scatter', xAxisIndex:g.xi, yAxisIndex:g.yi, data:CONF[c], symbol:'circle', symbolSize:6, silent:true,
    itemStyle:{color:'rgba(0,0,0,0)', borderColor:'#000', borderWidth:1}});
  const x0 = colLeft[c]+5;
  txt(x0, confTop+11, 'χ', 15, {align:'left'});
  txt(x0+8, confTop+6, '2', 10, {align:'left'});
  txt(x0+14, confTop+11, '='+chiSquare[c], 15, {align:'left'});
});
txt(24, 607, 'Confidence', 16, {rot:Math.PI/2});
txt(41, 607, 'Proportion', 16, {rot:Math.PI/2});
txt(403, 670, 'Confidence Proportion (Data)', 16);

// ZROC panels
[0,1].forEach(row=>{
  subjects.forEach((s,c)=>{
    const yr = row===0 ? zroc1YRange[c] : zroc2YRange[c];
    const g = addGrid(colLeft[c], zTop[row],
      ax({min:zrocXRange[c][0],max:zrocXRange[c][1],ticks:zrocXTicks[c],labels:zrocXLabels[c],fmt:fd(zrocXDecimals[c]),show:true,margin:5}),
      ax({min:yr[0],max:yr[1],ticks:row===0?zroc1YTicks[c]:zroc2YTicks[c],labels:row===0?zroc1YLabels[c]:zroc2YLabels[c],
          fmt:fd(1),show:true,margin:7,small:row===1?zroc2YSmall[c]:null}));
    series.push({type:'line', xAxisIndex:g.xi, yAxisIndex:g.yi, data:[[-5,-5],[5,5]], symbol:'none', silent:true,
      lineStyle:{color:'#000',width:1.3}});
    const model = ZROC[row][c][0], data = ZROC[row][c][1];
    model.forEach((curve,k)=>series.push({type:'line', xAxisIndex:g.xi, yAxisIndex:g.yi, data:curve, symbol:'none', silent:true,
      lineStyle:{color:'#000', width:k<2?1.5:2, type:k<2?'solid':[1.5,3.5]}}));
    const pts = [];
    data.forEach((arr,k)=>arr.forEach(p=>pts.push([p[0],p[1],zrocLabels[k]])));
    series.push({type:'scatter', xAxisIndex:g.xi, yAxisIndex:g.yi, data:pts, symbolSize:1, silent:true,
      itemStyle:{color:'rgba(0,0,0,0)'},
      label:{show:true, position:'inside', formatter:p=>p.value[2], color:LABEL, fontSize:12, fontFamily:FONT}});
  });
});
txt(37, 758, 'Z (Hits)', 16, {rot:Math.PI/2});
txt(401, 891, 'Z (False Alarms)', 16);

// Decision boundary panels
subjects.forEach((s,c)=>{
  const g = addGrid(colLeft[c], barTop,
    ax({min:0.8,max:6.2,ticks:confCategories,labels:confCategories,fmt:f0,show:true,margin:6}),
    ax({min:-0.18,max:4.68,ticks:boundTicks,labels:boundTicks,fmt:f0,show:true,margin:7}));
  series.push({type:'bar', xAxisIndex:g.xi, yAxisIndex:g.yi, data:BOUND[c].map((v,k)=>[confCategories[k],v]),
    barWidth:2, silent:true, itemStyle:{color:'#000'}});
});
txt(410, 1012, 'Decision Boundaries', 16);

const chart = echarts.init(document.getElementById('c'), null, {renderer:'canvas'});
chart.setOption({backgroundColor:'#fff', animation:false, grid, xAxis, yAxis, series, graphic});
</script></body></html>
